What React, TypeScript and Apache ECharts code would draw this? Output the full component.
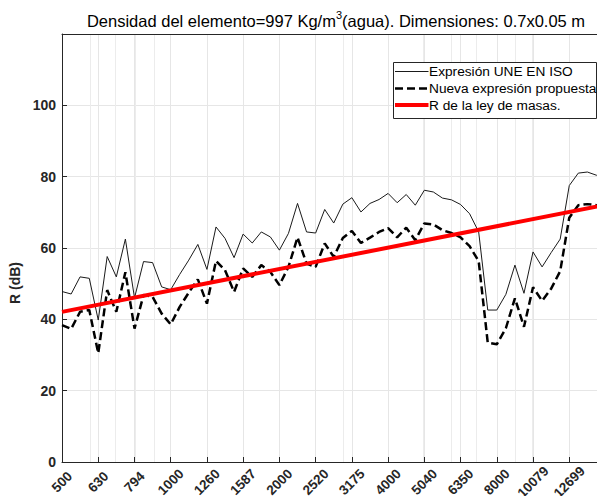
import React, { useEffect, useRef } from 'react';
import * as echarts from 'echarts';

const FONT = '"Liberation Sans", Arial, Helvetica, sans-serif';

// 1/12-octave frequency points (Hz)
const frequencies = [
  500, 530, 561, 595, 630, 667, 707, 749, 794, 841, 891, 944,
  1000, 1059, 1122, 1189, 1260, 1335, 1414, 1498, 1587, 1682, 1782, 1888,
  2000, 2119, 2245, 2378, 2520, 2670, 2828, 2997, 3175, 3364, 3564, 3776,
  4000, 4238, 4490, 4757, 5040, 5339, 5657, 5993, 6350, 6727, 7127, 7551,
  8000, 8476, 8980, 9514, 10079, 10679, 11314, 11986, 12699, 13454, 14254, 15102,
  16000,
];

// Expresión UNE EN ISO (dB)
const isoValues = [
  47.8, 47.1, 51.9, 51.5, 39.8, 57.6, 51.9, 62.5, 46.0, 56.2, 55.9, 49.1,
  48.3, 52.6, 56.6, 61.0, 54.0, 65.9, 62.7, 57.3, 63.9, 61.4, 64.5, 63.1,
  59.4, 64.1, 72.5, 64.5, 64.2, 70.8, 67.0, 72.3, 74.1, 70.1, 72.5, 73.6,
  75.3, 72.7, 75.0, 72.0, 76.2, 75.7, 74.0, 73.5, 72.2, 69.6, 64.5, 42.6,
  42.6, 47.0, 55.2, 47.3, 58.9, 54.7, 58.7, 62.5, 77.5, 81.0, 81.3, 80.4,
  80.0,
];

// Nueva expresión propuesta (dB)
const proposedValues = [
  38.4, 37.3, 42.1, 42.6, 30.5, 48.2, 42.1, 53.2, 37.4, 46.8, 46.3, 41.6,
  38.6, 43.5, 47.5, 51.2, 44.4, 56.4, 53.8, 47.7, 54.3, 51.9, 55.2, 53.3,
  49.6, 54.7, 63.0, 55.6, 54.7, 61.3, 57.5, 62.8, 64.8, 61.4, 62.9, 64.5,
  65.6, 63.0, 65.7, 62.2, 66.9, 66.6, 65.0, 64.2, 63.0, 60.5, 56.3, 33.5,
  33.0, 37.5, 45.9, 37.9, 49.0, 45.2, 48.6, 53.5, 68.5, 72.0, 72.3, 72.0,
  72.0,
];

// R de la ley de masas (straight line on the log axis)
const massLawFreqs = [500, 16000];
const massLawValues = [42.1, 72.1];

const xTickValues = [500, 630, 794, 1000, 1260, 1587, 2000, 2520, 3175, 4000, 5040, 6350, 8000, 10079, 12699];
const xMinorGrid = [600, 700, 800, 900, 3000, 5000, 6000, 7000, 9000, 10000];
const yTickLabels = [0, 20, 40, 60, 80, 100];

const legendLabels = ['Expresión UNE EN ISO', 'Nueva expresión propuesta', 'R de la ley de masas.'];
const titleParts = ['Densidad del elemento=997 Kg/m', '3', '(agua). Dimensiones: 0.7x0.05 m'];
const yAxisName = 'R (dB)';

const AXIS_COLOR = '#262626';
const GRID_COLOR = '#e6e6e6';

export default function App() {
  const ref = useRef<HTMLDivElement>(null);

  useEffect(() => {
    if (!ref.current) return;
    const chart = echarts.init(ref.current, null, { renderer: 'svg' });
    const pair = (xs: number[], ys: number[]) => xs.map((f, i) => [f, ys[i]]);

    const legendX = 393.5;
    const legendY = 62.5;
    const rowYs = [71.5, 88.5, 105];
    const sampleStyles = [
      { stroke: '#1a1a1a', lineWidth: 1 },
      { stroke: '#000', lineWidth: 2.5, lineDash: [8, 4] },
      { stroke: '#ff0000', lineWidth: 4 },
    ];

    const legendElements: any[] = [
      {
        type: 'rect',
        shape: { x: legendX, y: legendY, width: 203, height: 56 },
        style: { fill: '#fff', stroke: AXIS_COLOR, lineWidth: 1 },
        z: 100,
      },
    ];
    legendLabels.forEach((label, i) => {
      legendElements.push({
        type: 'line',
        shape: { x1: legendX + 1.5, y1: rowYs[i], x2: legendX + 35, y2: rowYs[i] },
        style: { ...sampleStyles[i], fill: null },
        z: 101,
      });
      legendElements.push({
        type: 'text',
        x: legendX + 35.5,
        y: rowYs[i],
        style: {
          text: label,
          fontSize: 13.7,
          fontFamily: FONT,
          fill: '#000',
          align: 'left',
          verticalAlign: 'middle',
        },
        z: 101,
      });
    });

    chart.setOption({
      animation: false,
      backgroundColor: '#ffffff',
      textStyle: { fontFamily: FONT },
      grid: {
        left: 62,
        top: 34,
        right: -8.5,
        bottom: 34,
        containLabel: false,
        outerBoundsMode: 'none',
      },
      xAxis: [
        {
          type: 'log',
          logBase: 10,
          min: 500,
          max: 16000,
          position: 'bottom',
          axisLine: { show: true, onZero: false, lineStyle: { color: AXIS_COLOR, width: 1 } },
          axisTick: { show: true, inside: true, length: 5, customValues: xTickValues, lineStyle: { color: AXIS_COLOR } },
          axisLabel: {
            customValues: xTickValues,
            rotate: 45,
            align: 'center',
            verticalAlign: 'middle',
            margin: 20,
            fontSize: 13.5,
            fontWeight: 'bold',
            color: AXIS_COLOR,
            fontFamily: FONT,
            hideOverlap: false,
            formatter: (v: number) => String(Math.round(v)),
          },
          splitLine: { show: true, lineStyle: { color: GRID_COLOR, width: 1 } },
          minorTick: { show: false },
          minorSplitLine: { show: false },
        },
        {
          type: 'log',
          logBase: 10,
          min: 500,
          max: 16000,
          position: 'top',
          axisLine: { show: true, onZero: false, lineStyle: { color: AXIS_COLOR, width: 1 } },
          axisTick: { show: false, customValues: xMinorGrid },
          axisLabel: { show: false },
          splitLine: { show: true, lineStyle: { color: '#ececec', width: 1 } },
        },
      ],
      yAxis: {
        type: 'value',
        min: 0,
        max: 120,
        interval: 20,
        axisLine: { show: true, lineStyle: { color: AXIS_COLOR, width: 1 } },
        axisTick: { show: true, inside: true, length: 5, lineStyle: { color: AXIS_COLOR } },
        axisLabel: {
          customValues: yTickLabels,
          margin: 6,
          fontSize: 14,
          fontWeight: 'bold',
          color: AXIS_COLOR,
          fontFamily: FONT,
        },
        splitLine: { show: true, lineStyle: { color: GRID_COLOR, width: 1 } },
        name: yAxisName,
        nameLocation: 'middle',
        nameGap: 32,
        nameTextStyle: {
          fontSize: 14,
          fontWeight: 'bold',
          color: AXIS_COLOR,
          fontFamily: FONT,
          padding: [0, 70, 0, 0],
        },
      },
      series: [
        {
          name: legendLabels[0],
          type: 'line',
          xAxisIndex: 0,
          data: pair(frequencies, isoValues),
          symbol: 'none',
          lineStyle: { color: '#1a1a1a', width: 1 },
          z: 2,
        },
        {
          name: legendLabels[1],
          type: 'line',
          xAxisIndex: 0,
          data: pair(frequencies, proposedValues),
          symbol: 'none',
          lineStyle: { color: '#000000', width: 2.5, type: [8, 4] },
          z: 3,
        },
        {
          name: legendLabels[2],
          type: 'line',
          xAxisIndex: 0,
          data: pair(massLawFreqs, massLawValues),
          symbol: 'none',
          lineStyle: { color: '#ff0000', width: 4 },
          z: 4,
        },
      ],
      graphic: [
        {
          type: 'text',
          x: 336,
          y: 19,
          style: {
            text: `{a|${titleParts[0]}}{s|${titleParts[1]}}{a|${titleParts[2]}}`,
            align: 'center',
            verticalAlign: 'middle',
            rich: {
              a: { fontSize: 16.5, fontFamily: FONT, fill: '#000', lineHeight: 20, verticalAlign: 'bottom' },
              s: { fontSize: 11, fontFamily: FONT, fill: '#000', lineHeight: 10, verticalAlign: 'top' },
            },
          },
          z: 100,
        },
        ...legendElements,
      ],
    });

    return () => chart.dispose();
  }, []);

  return (
    <div
      ref={ref}
      style={{ position: 'absolute', left: 0, top: 0, width: 597, height: 496 }}
    />
  );
}
